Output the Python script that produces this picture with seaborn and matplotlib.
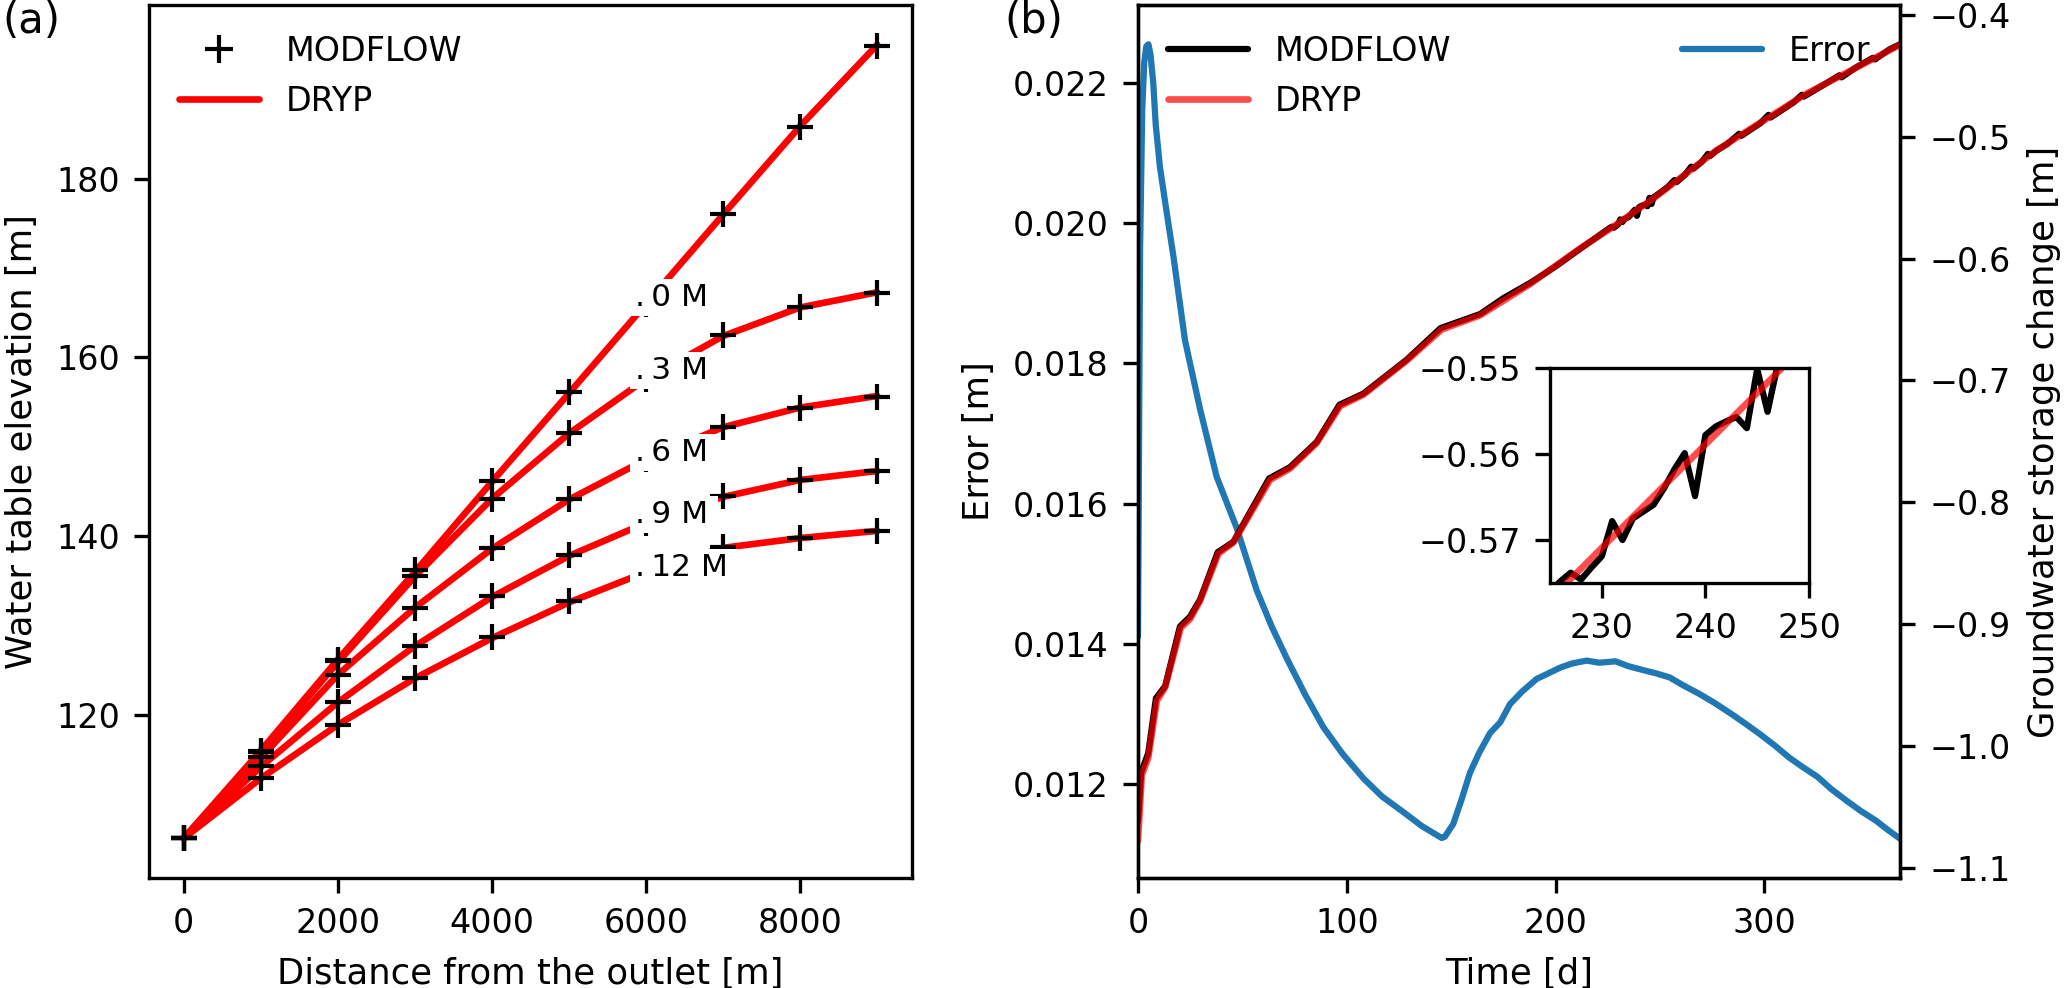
import matplotlib
matplotlib.use("Agg")
import numpy as np
import pandas as pd
import seaborn as sns
import matplotlib.pyplot as plt
from matplotlib.lines import Line2D

# ---------------- data: panel (a) ----------------
distance = [0, 1000, 2000, 3000, 4000, 5000, 6000, 7000, 8000, 9000]
scenarios = ["0 M", "3 M", "6 M", "9 M", "12 M"]
modflow_0m = [106.2, 116.0, 126.2, 136.2, 146.2, 156.1, 166.0, 176.0, 185.8, 194.9]
modflow_3m = [106.2, 115.9, 126.0, 135.6, 144.2, 151.5, 157.6, 162.5, 165.6, 167.2]
modflow_6m = [106.2, 115.3, 124.5, 132.0, 138.7, 144.2, 148.6, 152.2, 154.4, 155.6]
modflow_9m = [106.2, 114.3, 121.4, 127.7, 133.3, 137.9, 141.5, 144.5, 146.3, 147.3]
modflow_12m = [106.2, 112.9, 118.9, 124.1, 128.7, 132.7, 136.0, 138.8, 139.8, 140.6]
dryp_0m = [106.2, 116.0, 126.2, 136.0, 146.1, 156.0, 166.0, 176.0, 185.9, 195.0]
dryp_3m = [106.2, 115.8, 125.9, 135.5, 144.2, 151.5, 157.6, 162.4, 165.6, 167.3]
dryp_6m = [106.2, 115.2, 124.5, 132.0, 138.6, 144.1, 148.6, 152.2, 154.4, 155.7]
dryp_9m = [106.2, 114.2, 121.4, 127.7, 133.2, 137.8, 141.5, 144.4, 146.3, 147.3]
dryp_12m = [106.2, 112.9, 118.9, 124.1, 128.6, 132.6, 136.0, 138.7, 139.8, 140.6]
label_y = [166.7, 158.5, 149.4, 142.4, 136.5]

# ---------------- data: panel (b) ----------------
err_day = [0, 1, 2, 3, 4, 5, 6, 7.3, 8.5, 10.5, 13.5, 16.9, 22.5, 29.7, 37.7, 47.3,
           56.9, 64, 71.3, 80, 88.8, 98, 108, 117, 127.1, 136, 145.5, 147, 151, 155,
           159, 163.5, 168.7, 173.5, 178.2, 184, 191, 196, 202.2, 208, 214.9, 221,
           228.7, 235, 242.6, 248, 254.7, 261, 268.6, 276, 284.2, 291, 298, 305,
           311.8, 318, 325.6, 332, 339.5, 346, 353.4, 359, 365]
err_val = [0.0141, 0.0196, 0.0216, 0.0223, 0.02252, 0.02255, 0.0224, 0.0220, 0.0214,
           0.0208, 0.0202, 0.01954, 0.01833, 0.01735, 0.01638, 0.01565, 0.01476,
           0.01425, 0.01379, 0.01328, 0.01281, 0.01243, 0.01208, 0.01182, 0.0116,
           0.0114, 0.01123, 0.01125, 0.01143, 0.01178, 0.01216, 0.01245, 0.01273,
           0.01288, 0.01314, 0.01332, 0.0135, 0.01357, 0.01366, 0.01372, 0.01376,
           0.01373, 0.01375, 0.01368, 0.01362, 0.01358, 0.01352, 0.01341, 0.01329,
           0.01316, 0.0130, 0.01286, 0.01271, 0.01255, 0.01238, 0.01225, 0.0121,
           0.01193, 0.01176, 0.01162, 0.01148, 0.01135, 0.01122]

dryp_day = [0, 1.8, 4.9, 9, 13, 20.5, 24.9, 29.7, 38.5, 45.7, 52.9, 63.2, 72.8, 85.6,
            96.8, 108, 128.7, 145.5, 163.9, 187.8, 211.8, 226.6, 247.4, 277.2, 320.5, 365]
dryp_storage = [-1.078, -1.024, -1.010, -0.963, -0.952, -0.903, -0.896, -0.881, -0.8423,
                -0.833, -0.812, -0.7817, -0.7724, -0.7514, -0.7211, -0.7117, -0.6838,
                -0.6582, -0.6465, -0.6209, -0.5915, -0.575, -0.550, -0.511, -0.4643, -0.4245]

modflow_day = [0, 1.5, 4.9, 8.6, 13, 20.1, 24.9, 29.7, 38.2, 45.7, 52.9, 62.8, 72.8,
               85.6, 96.5, 108, 128.7, 145.0, 163.9, 175, 187.8, 200, 211.8,
               225, 226, 227, 228, 229, 230, 231, 232, 233, 234, 235, 236, 237, 238,
               239, 240, 241, 242, 243, 244, 245, 246, 247, 248, 249, 250,
               254, 257, 258, 262, 265, 266, 270, 273, 274, 277, 282, 288, 289, 298,
               302, 303, 314, 318, 319, 328, 336, 337, 344, 352, 353, 360, 365]
modflow_storage = [-1.062, -1.022, -1.006, -0.961, -0.951, -0.902, -0.894, -0.880,
                   -0.8410, -0.8325, -0.8105, -0.7805, -0.7712, -0.7505, -0.7200,
                   -0.7108, -0.6830, -0.6570, -0.6455, -0.6325, -0.6200, -0.6065, -0.5920,
                   -0.5760, -0.5748, -0.5738, -0.5746, -0.5732, -0.5719, -0.5678,
                   -0.5700, -0.5675, -0.5667, -0.5659, -0.5640, -0.5618, -0.5599,
                   -0.5649, -0.5578, -0.5568, -0.5562, -0.5557, -0.5570, -0.5501,
                   -0.5551, -0.5495, -0.5485, -0.5472, -0.5460,
                   -0.5408, -0.5355, -0.5372, -0.5312, -0.5245, -0.5262, -0.5207,
                   -0.5140, -0.5158, -0.5115, -0.5062, -0.4975, -0.4992, -0.4890,
                   -0.4820, -0.4842, -0.4718, -0.4655, -0.4670, -0.4578, -0.4495,
                   -0.4512, -0.4430, -0.4352, -0.4365, -0.4282, -0.4240]

# ---------------- style ----------------
sns.set_style("ticks", {"axes.edgecolor": "black", "xtick.color": "black",
                        "ytick.color": "black", "text.color": "black",
                        "axes.labelcolor": "black"})
plt.rcParams["font.family"] = ["DejaVu Sans"]
plt.rcParams.update({"font.size": 8, "xtick.labelsize": 8, "ytick.labelsize": 8,
                     "axes.labelsize": 8.5, "legend.fontsize": 8,
                     "axes.linewidth": 0.8, "xtick.major.width": 0.8,
                     "ytick.major.width": 0.8, "xtick.major.size": 3.5,
                     "ytick.major.size": 3.5})

W, H = 2067, 988
fig = plt.figure(figsize=(W / 300, H / 300), dpi=300)
axA = fig.add_axes([149 / W, 1 - 878 / H, (912 - 149) / W, (878 - 5) / H])
axB = fig.add_axes([1138 / W, 1 - 878 / H, (1900 - 1138) / W, (878 - 5) / H])
axB2 = axB.twinx()

# ---------------- panel (a) ----------------
mod_series = [modflow_0m, modflow_3m, modflow_6m, modflow_9m, modflow_12m]
dry_series = [dryp_0m, dryp_3m, dryp_6m, dryp_9m, dryp_12m]
rows = []
for sc, m, d in zip(scenarios, mod_series, dry_series):
    for x, mv, dv in zip(distance, m, d):
        rows.append({"scenario": sc, "distance": x, "modflow": mv, "dryp": dv})
dfa = pd.DataFrame(rows)

sns.lineplot(data=dfa, x="distance", y="dryp", units="scenario", estimator=None,
             color="red", linewidth=1.6, ax=axA, legend=False, zorder=2)
sns.scatterplot(data=dfa, x="distance", y="modflow", marker="+", color="black",
                s=40, linewidth=1.0, ax=axA, legend=False, zorder=3)

for sc, ly in zip(scenarios, label_y):
    axA.text(5850, ly, "." + "\u2009" + sc + "\u2009", ha="left", va="center",
             fontsize=7.5,
             bbox=dict(facecolor="white", edgecolor="none", pad=1.0), zorder=5)

axA.set_xlabel("Distance from the outlet [m]")
axA.set_ylabel("Water table elevation [m]")
axA.set_xticks([0, 2000, 4000, 6000, 8000])
axA.set_yticks([120, 140, 160, 180])
handles_a = [Line2D([], [], color="black", marker="+", linestyle="none", markersize=6.5,
                    markeredgewidth=1.0),
             Line2D([], [], color="red", linewidth=1.6)]
axA.legend(handles_a, ["MODFLOW", "DRYP"], loc="upper left", frameon=False,
           handlelength=2.4)

# ---------------- panel (b) ----------------
sns.lineplot(x=err_day, y=err_val, color="#1f77b4", linewidth=1.5, ax=axB)
sns.lineplot(x=modflow_day, y=modflow_storage, color="black", linewidth=1.5, ax=axB2)
sns.lineplot(x=dryp_day, y=dryp_storage, color="red", alpha=0.7, linewidth=1.6, ax=axB2)

axB.set_xlim(0, 365)
axB.set_ylim(0.01066, 0.02311)
axB2.set_ylim(-1.1085, -0.3918)
axB.set_xticks([0, 100, 200, 300])
axB.set_yticks([0.012, 0.014, 0.016, 0.018, 0.020, 0.022])
axB.set_yticklabels(["0.012", "0.014", "0.016", "0.018", "0.020", "0.022"])
axB2.set_yticks([-1.1, -1.0, -0.9, -0.8, -0.7, -0.6, -0.5, -0.4])
axB.set_xlabel("Time [d]")
axB.set_ylabel("Error [m]")
axB2.set_ylabel("Groundwater storage change [m]")

axB.legend([Line2D([], [], color="#1f77b4", linewidth=1.5)], ["Error"],
           loc="upper right", frameon=False, handlelength=2.4)
axB2.legend([Line2D([], [], color="black", linewidth=1.5),
             Line2D([], [], color="red", alpha=0.7, linewidth=1.6)],
            ["MODFLOW", "DRYP"], loc="upper left", frameon=False, handlelength=2.4)

# ---------------- inset ----------------
axIn = fig.add_axes([1550 / W, 1 - 583 / H, (1809 - 1550) / W, (583 - 368) / H])
sns.lineplot(x=modflow_day, y=modflow_storage, color="black", linewidth=1.5, ax=axIn)
sns.lineplot(x=dryp_day, y=dryp_storage, color="red", alpha=0.7, linewidth=1.6, ax=axIn)
axIn.set_xlim(225, 250)
axIn.set_ylim(-0.575, -0.55)
axIn.set_xticks([230, 240, 250])
axIn.set_yticks([-0.57, -0.56, -0.55])
axIn.set_xlabel("")
axIn.set_ylabel("")

fig.text(0.001, 1.0, "(a)", fontsize=10, va="top", ha="left")
fig.text(1004 / W, 1.0, "(b)", fontsize=10, va="top", ha="left")

fig.savefig("out.png", dpi=300)
